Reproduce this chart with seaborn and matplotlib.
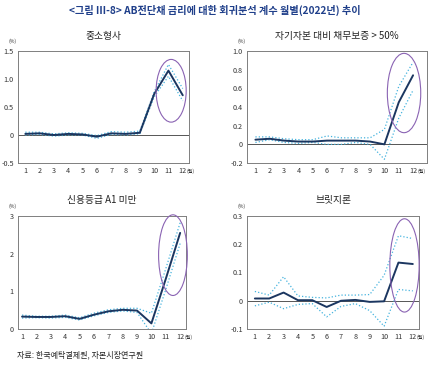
import numpy as np
import pandas as pd
import matplotlib
matplotlib.use('Agg')
import matplotlib.pyplot as plt
from matplotlib.patches import Ellipse
import seaborn as sns

# 월 (1~12)
months = list(range(1, 13))

# 중소형사
sm_mid = [0.02, 0.03, 0.00, 0.02, 0.01, -0.03, 0.03, 0.02, 0.04, 0.73, 1.15, 0.71]
sm_up = [0.05, 0.05, 0.02, 0.04, 0.03, -0.01, 0.06, 0.05, 0.07, 0.77, 1.26, 0.83]
sm_lo = [0.00, 0.01, -0.02, 0.00, 0.00, -0.06, 0.01, 0.00, 0.02, 0.68, 1.05, 0.61]

# 자기자본 대비 채무보증 > 50%
dg_mid = [0.05, 0.06, 0.04, 0.03, 0.03, 0.04, 0.04, 0.04, 0.03, 0.00, 0.45, 0.74]
dg_up = [0.08, 0.08, 0.06, 0.05, 0.05, 0.09, 0.07, 0.07, 0.07, 0.16, 0.62, 0.88]
dg_lo = [0.02, 0.05, 0.02, 0.01, 0.02, 0.00, 0.00, 0.02, 0.00, -0.16, 0.28, 0.58]

# 신용등급 A1 미만
cr_mid = [0.33, 0.32, 0.32, 0.34, 0.27, 0.38, 0.47, 0.51, 0.49, 0.15, 1.33, 2.55]
cr_up = [0.37, 0.34, 0.34, 0.37, 0.30, 0.42, 0.51, 0.55, 0.55, 0.42, 1.60, 2.82]
cr_lo = [0.29, 0.30, 0.29, 0.31, 0.24, 0.35, 0.44, 0.48, 0.44, -0.12, 1.05, 2.27]

# 브릿지론
br_mid = [0.008, 0.008, 0.029, 0.002, 0.002, -0.022, 0.000, 0.003, -0.004, -0.002, 0.135, 0.130]
br_up = [0.033, 0.020, 0.085, 0.017, 0.012, 0.010, 0.020, 0.020, 0.022, 0.090, 0.230, 0.220]
br_lo = [-0.018, -0.005, -0.028, -0.013, -0.010, -0.057, -0.020, -0.010, -0.035, -0.090, 0.040, 0.035]

sns.set_style('white')
plt.rcParams['font.family'] = ['Noto Sans CJK KR', 'DejaVu Sans']
plt.rcParams['axes.unicode_minus'] = False

NAVY = '#1b3660'
SKY = '#45b3de'
PURPLE = '#8a63b3'
GREY = '#7f7f7f'

fig = plt.figure(figsize=(4.29, 3.66), dpi=100)

fig.text(0.5, 0.972, '<그림 III-8> AB전단채 금리에 대한 회귀분석 계수 월별(2022년) 추이',
         ha='center', va='center', fontsize=7.3, color='#1f3f8a', fontweight='bold')

panels = [
    # 제목, 계수, 상단, 하단, 위치, y범위, y눈금, 형식, x범위, 타원
    ('중소형사', sm_mid, sm_up, sm_lo, [0.042, 0.5546, 0.399, 0.306],
     (-0.5, 1.5), [-0.5, 0, 0.5, 1.0, 1.5], '{:.1f}', (0.49, 12.45), (11.19, 0.79, 2.1, 1.12)),
    ('자기자본 대비 채무보증 > 50%', dg_mid, dg_up, dg_lo, [0.576, 0.5546, 0.4196, 0.306],
     (-0.2, 1.0), [-0.2, 0, 0.2, 0.4, 0.6, 0.8, 1.0], '{:.1f}', (0.42, 12.98), (11.37, 0.55, 2.33, 0.85)),
    ('신용등급 A1 미만', cr_mid, cr_up, cr_lo, [0.042, 0.101, 0.392, 0.309],
     (0, 3), [0, 1, 2, 3], '{:.0f}', (0.72, 12.42), (11.5, 1.96, 2.0, 2.14)),
    ('브릿지론', br_mid, br_up, br_lo, [0.576, 0.101, 0.401, 0.309],
     (-0.1, 0.3), [-0.1, 0, 0.1, 0.2, 0.3], '{:.1f}', (0.46, 12.44), (11.42, 0.125, 2.04, 0.33)),
]

for title, mid, up, lo, rect, ylim, yticks, yfmt, xlim, ell in panels:
    ax = fig.add_axes(rect)
    df = pd.DataFrame({'month': months, 'mid': mid, 'up': up, 'lo': lo})
    ax.axhline(0, color='#555555', lw=0.7, zorder=1)
    sns.lineplot(data=df, x='month', y='up', ax=ax, color=SKY, lw=0.9, linestyle=':')
    sns.lineplot(data=df, x='month', y='lo', ax=ax, color=SKY, lw=0.9, linestyle=':')
    sns.lineplot(data=df, x='month', y='mid', ax=ax, color=NAVY, lw=1.4)
    cx, cy, w, h = ell
    ax.add_patch(Ellipse((cx, cy), w, h, fill=False, edgecolor=PURPLE, lw=0.8,
                         zorder=5, clip_on=False))

    ax.set_xlim(*xlim)
    ax.set_ylim(*ylim)
    ax.set_xticks(months)
    ax.set_xticklabels([str(m) for m in months])
    ax.set_yticks(yticks)
    ax.set_yticklabels(['0' if t == 0 else yfmt.format(t) for t in yticks])
    ax.tick_params(axis='both', length=0, labelsize=5.2, colors='#333333', pad=3)
    ax.set_xlabel('')
    ax.set_ylabel('')
    for s in ax.spines.values():
        s.set_color(GREY)
        s.set_linewidth(0.7)
    ax.set_title(title, fontsize=7, pad=9, color='#222222')
    ax.text(-0.01, 1.06, '(%)', transform=ax.transAxes, fontsize=3.6, ha='right', va='bottom', color='#333333')
    ax.text(12.28, -0.075, '(월)', transform=ax.get_xaxis_transform(), fontsize=3.6, ha='left', va='center', color='#333333')

fig.text(0.04, 0.03, '자료: 한국예탁결제원, 자본시장연구원', fontsize=5.8, ha='left', va='center', color='#222222')

fig.savefig('out.png', dpi=100)
